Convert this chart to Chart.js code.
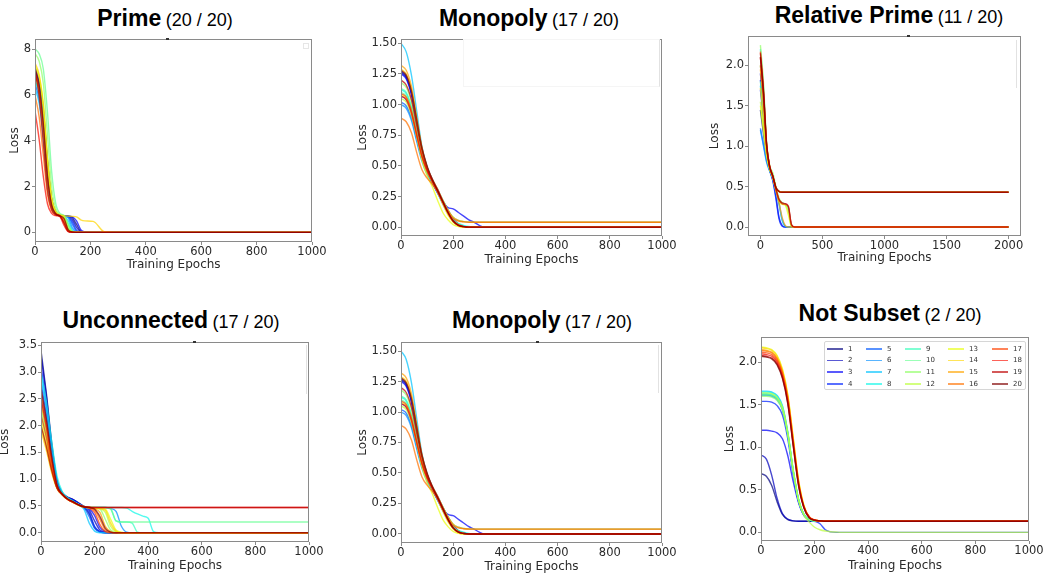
<!DOCTYPE html>
<html><head><meta charset="utf-8">
<script src="https://cdn.jsdelivr.net/npm/chart.js@4.4.0/dist/chart.umd.min.js"></script>
<style>
html,body{margin:0;padding:0;background:#fff;}
body{width:1048px;height:579px;position:relative;overflow:hidden;font-family:"Liberation Sans",Arial,sans-serif;}
canvas{position:absolute;}
.title{position:absolute;white-space:nowrap;color:#000;line-height:23px;transform:translateX(-50%);}
.title b{font-size:23px;font-weight:bold;}
.title span{font-size:18px;font-weight:normal;}
.ghost{position:absolute;box-sizing:border-box;}
.legend{position:absolute;left:824px;top:341px;width:202px;height:49px;box-sizing:border-box;border:1px solid #d6d6d6;border-radius:2px;background:rgba(255,255,255,0.85);}
.legend .ln{position:absolute;height:1.5px;width:16px;}
.legend .lb{position:absolute;font-family:"DejaVu Sans",sans-serif;font-size:7px;color:#333;line-height:8px;}
</style></head><body>

<div class="title" style="left:165px;top:6.5px"><b>Prime</b> <span>(20 / 20)</span></div>
<div class="title" style="left:529px;top:6.5px"><b>Monopoly</b> <span>(17 / 20)</span></div>
<div class="title" style="left:889px;top:3.8px"><b>Relative Prime</b> <span>(11 / 20)</span></div>
<div class="title" style="left:171px;top:309px"><b>Unconnected</b> <span>(17 / 20)</span></div>
<div class="title" style="left:542px;top:309px"><b>Monopoly</b> <span>(17 / 20)</span></div>
<div class="title" style="left:890px;top:302px"><b>Not Subset</b> <span>(2 / 20)</span></div>

<canvas id="c1"></canvas><canvas id="c2"></canvas><canvas id="c3"></canvas>
<canvas id="c4"></canvas><canvas id="c5"></canvas><canvas id="c6"></canvas>

<div class="ghost" style="left:303px;top:43px;width:6px;height:6px;border:1px solid #e6e6e6;"></div>
<div class="ghost" style="left:463px;top:39px;width:197px;height:48px;border:1px solid #f5f5f5;border-right-color:#e2e2e2;"></div>
<div class="ghost" style="left:1016px;top:40px;width:1px;height:48px;background:#e2e2e2;"></div>
<div class="ghost" style="left:306px;top:345px;width:1px;height:49px;background:#e2e2e2;"></div>
<div class="ghost" style="left:658px;top:345px;width:1px;height:48px;background:#e2e2e2;"></div>
<div class="ghost" style="left:166px;top:38px;width:3px;height:2px;background:#333;"></div>
<div class="ghost" style="left:907px;top:35px;width:3px;height:2px;background:#333;"></div>
<div class="ghost" style="left:193px;top:341px;width:3px;height:2px;background:#333;"></div>
<div class="ghost" style="left:536px;top:341px;width:3px;height:2px;background:#333;"></div>

<div class="legend" id="legend"></div>

<script>
// ---------------- DATA ----------------
const SERIES_LABELS = ['1','2','3','4','5','6','7','8','9','10','11','12','13','14','15','16','17','18','19','20'];

const X_TICKS_1000 = [0,200,400,600,800,1000];
const X_LABELS_1000 = ['0','200','400','600','800','1000'];
const X_TICKS_2000 = [0,500,1000,1500,2000];
const X_LABELS_2000 = ['0','500','1000','1500','2000'];

// Prime
const PRIME_Y_TICKS = [0,2,4,6,8];
const PRIME_Y_LABELS = ['0','2','4','6','8'];
const PRIME_EPOCHS = [0,15,30,45,60,75,90,105,120,135,150,165,180,210,250,300,1000];
const PRIME_LOSS = [
[6.8,6.34,5.16,3.01,1.43,0.88,0.74,0.72,0.71,0.64,0.35,0.05,0.01,0,0,0,0],
[7.0,6.52,5.30,3.08,1.45,0.88,0.74,0.72,0.70,0.55,0.22,0.03,0,0,0,0,0],
[6.6,6.15,5.01,2.93,1.40,0.87,0.74,0.72,0.71,0.68,0.50,0.12,0.02,0,0,0,0],
[7.1,6.61,5.38,3.12,1.46,0.89,0.75,0.72,0.69,0.45,0.10,0.01,0,0,0,0,0],
[6.5,5.81,4.31,2.26,1.14,0.80,0.72,0.71,0.68,0.35,0.05,0.01,0,0,0,0,0],
[6.9,6.43,5.23,3.04,1.44,0.88,0.74,0.71,0.63,0.20,0.03,0,0,0,0,0,0],
[6.3,5.63,4.18,2.21,1.13,0.80,0.72,0.70,0.50,0.10,0.01,0,0,0,0,0,0],
[6.7,5.99,4.43,2.31,1.16,0.81,0.72,0.69,0.35,0.05,0.01,0,0,0,0,0,0],
[6.6,6.15,5.01,2.93,1.40,0.87,0.74,0.68,0.20,0.03,0,0,0,0,0,0,0],
[8.0,7.79,7.13,5.24,2.66,1.25,0.83,0.74,0.38,0.05,0.01,0,0,0,0,0,0],
[7.8,7.47,6.51,4.25,1.99,1.03,0.78,0.72,0.30,0.04,0.01,0,0,0,0,0,0],
[7.2,6.71,5.45,3.16,1.47,0.89,0.75,0.60,0.12,0.02,0,0,0,0,0,0,0],
[7.3,6.80,5.52,3.19,1.49,0.89,0.75,0.65,0.15,0.02,0,0,0,0,0,0,0],
[7.4,6.89,5.60,3.23,1.50,0.89,0.75,0.72,0.71,0.70,0.68,0.55,0.50,0.48,0.03,0,0],
[6.9,6.16,4.56,2.37,1.17,0.81,0.72,0.55,0.08,0.01,0,0,0,0,0,0,0],
[6.0,5.04,3.35,1.66,0.95,0.76,0.71,0.45,0.05,0.01,0,0,0,0,0,0,0],
[7.0,6.25,4.62,2.39,1.18,0.81,0.72,0.45,0.05,0,0,0,0,0,0,0,0],
[5.3,4.06,2.44,1.25,0.83,0.73,0.68,0.30,0.03,0,0,0,0,0,0,0,0],
[7.1,5.94,3.90,1.86,1.00,0.77,0.71,0.40,0.04,0,0,0,0,0,0,0,0],
[7.2,6.43,4.74,2.45,1.19,0.82,0.72,0.60,0.12,0.02,0,0,0,0,0,0,0]
];

// Monopoly
const MONO_Y_TICKS = [0,0.25,0.5,0.75,1.0,1.25,1.5];
const MONO_Y_LABELS = ['0.00','0.25','0.50','0.75','1.00','1.25','1.50'];
const MONO_EPOCHS = [0,20,40,60,80,100,120,140,160,180,200,220,240,260,280,300,320,400,1000];
const MONO_LOSS = [
[1.27,1.23,1.10,0.87,0.64,0.49,0.39,0.31,0.22,0.14,0.07,0.025,0.008,0,0,0,0,0,0],
[1.26,1.22,1.09,0.86,0.63,0.48,0.38,0.30,0.21,0.13,0.06,0.02,0.005,0,0,0,0,0,0],
[1.25,1.21,1.08,0.85,0.62,0.46,0.36,0.28,0.21,0.16,0.15,0.12,0.09,0.06,0.04,0.015,0,0,0],
[1.07,1.04,0.93,0.75,0.58,0.46,0.37,0.29,0.20,0.12,0.05,0.02,0.005,0,0,0,0,0,0],
[1.02,0.99,0.89,0.72,0.56,0.45,0.37,0.29,0.20,0.12,0.05,0.02,0.005,0,0,0,0,0,0],
[1.00,0.97,0.87,0.70,0.54,0.43,0.36,0.28,0.19,0.11,0.05,0.015,0.004,0,0,0,0,0,0],
[1.50,1.43,1.24,0.95,0.66,0.49,0.38,0.30,0.21,0.13,0.06,0.02,0.005,0,0,0,0,0,0],
[1.12,1.09,0.97,0.78,0.60,0.47,0.38,0.30,0.21,0.12,0.05,0.03,0.015,0.005,0,0,0,0,0],
[1.13,1.10,0.98,0.79,0.60,0.47,0.38,0.30,0.22,0.14,0.08,0.055,0.045,0.041,0.04,0.04,0.04,0.04,0.04],
[1.10,1.07,0.96,0.77,0.59,0.46,0.37,0.30,0.22,0.13,0.06,0.02,0.005,0,0,0,0,0,0],
[1.18,1.14,1.02,0.81,0.61,0.47,0.38,0.30,0.21,0.12,0.05,0.02,0.005,0,0,0,0,0,0],
[1.05,1.02,0.91,0.74,0.57,0.45,0.37,0.29,0.20,0.11,0.05,0.02,0.005,0,0,0,0,0,0],
[1.08,1.05,0.94,0.74,0.55,0.42,0.33,0.22,0.12,0.06,0.02,0.005,0,0,0,0,0,0,0],
[1.29,1.25,1.12,0.88,0.64,0.48,0.38,0.29,0.19,0.10,0.04,0.01,0,0,0,0,0,0,0],
[1.32,1.28,1.15,0.90,0.65,0.49,0.39,0.31,0.22,0.14,0.08,0.055,0.045,0.041,0.04,0.04,0.04,0.04,0.04],
[0.89,0.86,0.77,0.61,0.47,0.40,0.35,0.29,0.21,0.13,0.07,0.05,0.043,0.04,0.04,0.04,0.04,0.04,0.04],
[1.09,1.06,0.95,0.76,0.58,0.46,0.37,0.29,0.20,0.12,0.05,0.02,0.005,0,0,0,0,0,0],
[1.07,1.04,0.93,0.75,0.58,0.46,0.38,0.30,0.21,0.12,0.05,0.015,0.004,0,0,0,0,0,0],
[1.20,1.16,1.04,0.83,0.63,0.48,0.38,0.30,0.21,0.12,0.05,0.015,0.004,0,0,0,0,0,0],
[1.28,1.24,1.11,0.88,0.65,0.50,0.39,0.30,0.21,0.12,0.05,0.015,0.004,0,0,0,0,0,0]
];

// Relative Prime
const REL_Y_TICKS = [0,0.5,1.0,1.5,2.0];
const REL_Y_LABELS = ['0.0','0.5','1.0','1.5','2.0'];
const REL_EPOCHS = [0,25,50,75,100,125,150,175,200,225,250,275,300,2000];
const REL_LOSS = [
[1.45,1.15,0.88,0.72,0.62,0.46,0.33,0.29,0.28,0.24,0.02,0,0,0],
[1.90,1.50,0.98,0.73,0.62,0.48,0.44,0.43,0.43,0.43,0.43,0.43,0.43,0.43],
[1.82,1.42,0.92,0.71,0.58,0.38,0.12,0.02,0,0,0,0,0,0],
[1.70,1.32,0.90,0.70,0.57,0.35,0.10,0.01,0,0,0,0,0,0],
[1.22,1.02,0.82,0.70,0.61,0.48,0.44,0.43,0.43,0.43,0.43,0.43,0.43,0.43],
[1.20,1.00,0.80,0.69,0.60,0.45,0.30,0.10,0.01,0,0,0,0,0],
[1.75,1.38,0.92,0.71,0.60,0.44,0.28,0.08,0.01,0,0,0,0,0],
[2.20,1.72,1.02,0.74,0.63,0.49,0.44,0.43,0.43,0.43,0.43,0.43,0.43,0.43],
[1.80,1.42,0.93,0.72,0.62,0.46,0.34,0.30,0.28,0.22,0.02,0,0,0],
[2.00,1.58,1.00,0.74,0.64,0.49,0.44,0.43,0.43,0.43,0.43,0.43,0.43,0.43],
[2.25,1.78,1.05,0.76,0.67,0.50,0.36,0.30,0.28,0.20,0.01,0,0,0],
[1.55,1.22,0.90,0.72,0.62,0.48,0.44,0.43,0.43,0.43,0.43,0.43,0.43,0.43],
[1.50,1.20,0.88,0.71,0.61,0.46,0.32,0.28,0.27,0.15,0.01,0,0,0],
[1.72,1.36,0.93,0.72,0.62,0.48,0.44,0.43,0.43,0.43,0.43,0.43,0.43,0.43],
[1.95,1.52,0.98,0.73,0.61,0.45,0.30,0.12,0.02,0,0,0,0,0],
[2.00,1.58,1.00,0.74,0.63,0.49,0.44,0.43,0.43,0.43,0.43,0.43,0.43,0.43],
[2.17,1.70,1.03,0.75,0.63,0.47,0.34,0.29,0.28,0.25,0.03,0,0,0],
[2.10,1.65,1.01,0.74,0.63,0.49,0.44,0.43,0.43,0.43,0.43,0.43,0.43,0.43],
[2.15,1.68,1.02,0.75,0.63,0.47,0.34,0.30,0.29,0.26,0.03,0,0,0],
[2.10,1.65,1.01,0.74,0.63,0.49,0.44,0.43,0.43,0.43,0.43,0.43,0.43,0.43]
];

// Unconnected
const UNC_Y_TICKS = [0,0.5,1.0,1.5,2.0,2.5,3.0,3.5];
const UNC_Y_LABELS = ['0.0','0.5','1.0','1.5','2.0','2.5','3.0','3.5'];
const UNC_EPOCHS = [0,20,40,60,80,100,120,140,160,180,200,220,240,260,280,300,320,340,360,380,400,420,440,1000];
const UNC_LOSS = [
[3.4,2.6,1.68,0.98,0.75,0.66,0.62,0.56,0.48,0.35,0.10,0.02,0,0,0,0,0,0,0,0,0,0,0,0],
[3.3,2.55,1.63,0.96,0.74,0.66,0.62,0.55,0.49,0.42,0.22,0.05,0.01,0,0,0,0,0,0,0,0,0,0,0],
[3.1,2.4,1.55,0.93,0.73,0.65,0.61,0.55,0.49,0.45,0.32,0.10,0.02,0,0,0,0,0,0,0,0,0,0,0],
[2.8,2.2,1.45,0.90,0.72,0.64,0.60,0.54,0.48,0.38,0.12,0.02,0,0,0,0,0,0,0,0,0,0,0,0],
[2.6,2.05,1.38,0.88,0.72,0.64,0.59,0.53,0.47,0.30,0.08,0.01,0,0,0,0,0,0,0,0,0,0,0,0],
[2.5,1.98,1.33,0.86,0.71,0.63,0.58,0.52,0.47,0.47,0.47,0.47,0.47,0.45,0.40,0.12,0.01,0,0,0,0,0,0,0],
[2.9,2.3,1.55,0.95,0.74,0.64,0.58,0.52,0.44,0.18,0.03,0,0,0,0,0,0,0,0,0,0,0,0,0],
[3.0,2.45,1.7,1.05,0.76,0.65,0.59,0.53,0.49,0.47,0.47,0.47,0.47,0.47,0.47,0.47,0.46,0.40,0.35,0.31,0.27,0.02,0,0],
[2.4,1.92,1.3,0.86,0.72,0.63,0.58,0.53,0.49,0.47,0.47,0.47,0.47,0.45,0.22,0.20,0.20,0.18,0.01,0,0,0,0,0],
[2.2,1.78,1.22,0.83,0.71,0.63,0.58,0.53,0.49,0.47,0.47,0.47,0.47,0.44,0.22,0.20,0.20,0.20,0.20,0.20,0.20,0.20,0.20,0.20],
[2.3,1.85,1.26,0.85,0.71,0.62,0.57,0.52,0.48,0.47,0.46,0.44,0.25,0.05,0.01,0,0,0,0,0,0,0,0,0],
[2.0,1.61,1.16,0.83,0.71,0.62,0.57,0.52,0.48,0.47,0.46,0.45,0.38,0.12,0.02,0,0,0,0,0,0,0,0,0],
[2.1,1.68,1.19,0.84,0.71,0.62,0.57,0.52,0.48,0.47,0.47,0.46,0.44,0.25,0.05,0.01,0,0,0,0,0,0,0,0],
[1.9,1.54,1.12,0.82,0.70,0.62,0.56,0.51,0.48,0.47,0.46,0.45,0.42,0.18,0.03,0,0,0,0,0,0,0,0,0],
[2.4,1.92,1.3,0.86,0.71,0.62,0.57,0.52,0.48,0.47,0.45,0.38,0.12,0.02,0,0,0,0,0,0,0,0,0,0],
[2.6,2.05,1.38,0.88,0.72,0.63,0.57,0.52,0.48,0.47,0.42,0.25,0.05,0.01,0,0,0,0,0,0,0,0,0,0],
[2.2,1.78,1.22,0.83,0.71,0.62,0.57,0.52,0.48,0.46,0.38,0.15,0.02,0,0,0,0,0,0,0,0,0,0,0],
[2.5,1.98,1.33,0.86,0.71,0.62,0.57,0.52,0.49,0.475,0.47,0.47,0.47,0.47,0.47,0.47,0.47,0.47,0.47,0.47,0.47,0.47,0.47,0.47],
[2.0,1.61,1.16,0.83,0.71,0.62,0.57,0.52,0.49,0.475,0.47,0.47,0.47,0.47,0.47,0.47,0.47,0.47,0.47,0.47,0.47,0.47,0.47,0.47],
[2.7,2.12,1.42,0.89,0.72,0.63,0.58,0.52,0.48,0.47,0.44,0.30,0.08,0.01,0,0,0,0,0,0,0,0,0,0]
];

// Not Subset
const NS_Y_TICKS = [0,0.5,1.0,1.5,2.0];
const NS_Y_LABELS = ['0.0','0.5','1.0','1.5','2.0'];
const NS_EPOCHS = [0,20,40,60,80,100,120,140,160,180,200,220,240,260,280,300,1000];
const NS_LOSS = [
[0.69,0.66,0.55,0.36,0.21,0.15,0.135,0.13,0.13,0.13,0.13,0.13,0.13,0.13,0.13,0.13,0.13],
[0.91,0.86,0.67,0.40,0.22,0.155,0.135,0.13,0.13,0.13,0.13,0.13,0.13,0.13,0.13,0.13,0.13],
[1.20,1.20,1.19,1.17,1.10,0.90,0.60,0.35,0.20,0.15,0.135,0.13,0.13,0.13,0.13,0.13,0.13],
[1.54,1.54,1.53,1.49,1.38,1.10,0.68,0.36,0.20,0.15,0.13,0.10,0.03,0.005,0,0,0],
[1.62,1.62,1.61,1.57,1.45,1.15,0.72,0.38,0.21,0.15,0.135,0.13,0.13,0.13,0.13,0.13,0.13],
[1.61,1.61,1.60,1.56,1.44,1.14,0.71,0.38,0.21,0.15,0.135,0.13,0.13,0.13,0.13,0.13,0.13],
[1.66,1.66,1.65,1.61,1.49,1.18,0.74,0.39,0.21,0.15,0.135,0.13,0.13,0.13,0.13,0.13,0.13],
[1.65,1.65,1.64,1.60,1.48,1.17,0.73,0.39,0.21,0.15,0.135,0.13,0.13,0.13,0.13,0.13,0.13],
[1.63,1.63,1.62,1.58,1.46,1.16,0.72,0.38,0.21,0.15,0.135,0.13,0.13,0.13,0.13,0.13,0.13],
[1.62,1.62,1.61,1.57,1.46,1.16,0.73,0.39,0.21,0.15,0.135,0.13,0.13,0.13,0.13,0.13,0.13],
[1.60,1.60,1.59,1.55,1.44,1.15,0.72,0.38,0.21,0.15,0.135,0.13,0.13,0.13,0.13,0.13,0.13],
[1.64,1.64,1.63,1.59,1.47,1.17,0.73,0.38,0.20,0.12,0.06,0.03,0.015,0.007,0.003,0,0],
[2.18,2.17,2.15,2.08,1.92,1.62,1.12,0.62,0.32,0.18,0.145,0.135,0.13,0.13,0.13,0.13,0.13],
[2.17,2.16,2.14,2.07,1.91,1.61,1.11,0.61,0.31,0.18,0.145,0.135,0.13,0.13,0.13,0.13,0.13],
[2.15,2.14,2.12,2.05,1.89,1.59,1.09,0.60,0.31,0.18,0.145,0.135,0.13,0.13,0.13,0.13,0.13],
[2.14,2.13,2.11,2.04,1.88,1.58,1.08,0.59,0.30,0.18,0.145,0.135,0.13,0.13,0.13,0.13,0.13],
[2.12,2.11,2.09,2.02,1.86,1.56,1.06,0.58,0.30,0.18,0.145,0.135,0.13,0.13,0.13,0.13,0.13],
[2.10,2.09,2.07,2.00,1.84,1.54,1.05,0.57,0.30,0.18,0.145,0.135,0.13,0.13,0.13,0.13,0.13],
[2.08,2.07,2.05,1.98,1.82,1.52,1.03,0.56,0.29,0.17,0.145,0.135,0.13,0.13,0.13,0.13,0.13],
[2.07,2.06,2.04,1.97,1.81,1.51,1.02,0.55,0.29,0.17,0.14,0.135,0.13,0.13,0.13,0.13,0.13]
];

// ---------------- STYLE / RENDER ----------------
const JET = {
  r: [[0,0],[0.35,0],[0.66,1],[0.89,1],[1,0.5]],
  g: [[0,0],[0.125,0],[0.375,1],[0.64,1],[0.91,0],[1,0]],
  b: [[0,0.5],[0.11,1],[0.34,1],[0.65,0],[1,0]]
};
function seg(p, t) {
  for (let i = 1; i < p.length; i++) {
    if (t <= p[i][0]) {
      const [x0,y0] = p[i-1], [x1,y1] = p[i];
      return y0 + (y1 - y0) * (t - x0) / (x1 - x0);
    }
  }
  return p[p.length-1][1];
}
function jet(t, a) {
  const r = Math.round(seg(JET.r,t)*255), g = Math.round(seg(JET.g,t)*255), b = Math.round(seg(JET.b,t)*255);
  return `rgba(${r},${g},${b},${a})`;
}

Chart.defaults.font.family = '"DejaVu Sans", sans-serif';
Chart.defaults.animation = false;

const spinePlugin = {
  id: 'spine',
  afterDraw(chart) {
    const {ctx, chartArea: a} = chart;
    ctx.save();
    ctx.strokeStyle = '#8a8a8a';
    ctx.lineWidth = 1;
    ctx.strokeRect(Math.round(a.left) + 0.5, Math.round(a.top) + 0.5,
                   Math.round(a.right - a.left) - 1, Math.round(a.bottom - a.top) - 1);
    ctx.restore();
  }
};

const TEXT = '#2a2a2a';
const GRID = {display: true, drawOnChartArea: false, drawTicks: true, tickLength: 3, color: '#8a8a8a', lineWidth: 1};

function build(id, g, xLim, yLim, xTicks, xLabels, yTicks, yLabels, epochs, rows) {
  const padTop = 8, padRight = 18;
  const canvasLeft = Math.round(g.yTitleX - 7);
  const yW = g.l - canvasLeft;
  const canvasTop = g.t - padTop;
  const xH = Math.round(g.xTitleY + 7 - g.b);
  const W = g.r + padRight - canvasLeft;
  const H = g.b + xH - canvasTop;
  const cv = document.getElementById(id);
  cv.width = W; cv.height = H;
  cv.style.left = canvasLeft + 'px'; cv.style.top = canvasTop + 'px';
  cv.style.width = W + 'px'; cv.style.height = H + 'px';
  const n = rows.length;
  const datasets = rows.map((row, i) => ({
    label: SERIES_LABELS[i],
    data: epochs.map((e, k) => ({x: e, y: row[k]})),
    borderColor: jet(i / (n - 1), 0.72),
    borderWidth: 1.4,
    pointRadius: 0,
    fill: false,
    order: n - 1 - i,
    cubicInterpolationMode: 'monotone'
  }));
  new Chart(cv, {
    type: 'line',
    data: {datasets},
    plugins: [spinePlugin],
    options: {
      responsive: false,
      devicePixelRatio: 1,
      animation: false,
      layout: {padding: {left: 0, top: padTop, right: padRight, bottom: 0}, autoPadding: false},
      plugins: {legend: {display: false}, tooltip: {enabled: false}},
      scales: {
        x: {
          type: 'linear', min: xLim[0], max: xLim[1],
          afterBuildTicks: s => { s.ticks = xTicks.map(v => ({value: v})); },
          afterFit: s => { s.height = xH; s.paddingLeft = 0; s.paddingRight = 0; },
          ticks: {color: TEXT, font: {size: 11.5}, padding: 0, maxRotation: 0, autoSkip: false,
                  callback: (v, i) => xLabels[i]},
          title: {display: true, text: 'Training Epochs', color: TEXT, font: {size: 12}, padding: 0},
          grid: GRID, border: {display: false}
        },
        y: {
          type: 'linear', min: yLim[0], max: yLim[1],
          afterBuildTicks: s => { s.ticks = yTicks.map(v => ({value: v})); },
          afterFit: s => { s.width = yW; s.paddingTop = 0; s.paddingBottom = 0; },
          ticks: {color: TEXT, font: {size: 11.5}, padding: 1, autoSkip: false,
                  callback: (v, i) => yLabels[i]},
          title: {display: true, text: 'Loss', color: TEXT, font: {size: 12}, padding: 0},
          grid: GRID, border: {display: false}
        }
      }
    }
  });
}

build('c1', {l:35, t:39, r:312, b:242, yTitleX:15, xTitleY:265}, [0,1000], [-0.42,8.44],
      X_TICKS_1000, X_LABELS_1000, PRIME_Y_TICKS, PRIME_Y_LABELS, PRIME_EPOCHS, PRIME_LOSS);
build('c2', {l:401, t:39, r:662, b:236, yTitleX:363, xTitleY:260}, [0,1000], [-0.072,1.535],
      X_TICKS_1000, X_LABELS_1000, MONO_Y_TICKS, MONO_Y_LABELS, MONO_EPOCHS, MONO_LOSS);
build('c3', {l:748, t:36, r:1021, b:236, yTitleX:715, xTitleY:258}, [-100,2100], [-0.111,2.363],
      X_TICKS_2000, X_LABELS_2000, REL_Y_TICKS, REL_Y_LABELS, REL_EPOCHS, REL_LOSS);
build('c4', {l:41, t:342, r:309, b:542, yTitleX:5, xTitleY:566}, [0,1000], [-0.173,3.56],
      X_TICKS_1000, X_LABELS_1000, UNC_Y_TICKS, UNC_Y_LABELS, UNC_EPOCHS, UNC_LOSS);
build('c5', {l:401, t:342, r:662, b:543, yTitleX:363, xTitleY:567}, [0,1000], [-0.074,1.574],
      X_TICKS_1000, X_LABELS_1000, MONO_Y_TICKS, MONO_Y_LABELS, MONO_EPOCHS, MONO_LOSS);
build('c6', {l:761, t:337, r:1029, b:541, yTitleX:730, xTitleY:566}, [0,1000], [-0.102,2.297],
      X_TICKS_1000, X_LABELS_1000, NS_Y_TICKS, NS_Y_LABELS, NS_EPOCHS, NS_LOSS);

// Legend for Not Subset
const legend = document.getElementById('legend');
const COL_X = [2, 41, 80, 123, 167];
SERIES_LABELS.forEach((lab, i) => {
  const col = Math.floor(i / 4), row = i % 4;
  const y = 6 + row * 11.7;
  const ln = document.createElement('div');
  ln.className = 'ln';
  ln.style.left = COL_X[col] + 'px';
  ln.style.top = y + 'px';
  ln.style.background = jet(i / (SERIES_LABELS.length - 1), 0.65);
  legend.appendChild(ln);
  const lb = document.createElement('div');
  lb.className = 'lb';
  lb.textContent = lab;
  lb.style.left = (COL_X[col] + 21) + 'px';
  lb.style.top = (y - 3.5) + 'px';
  legend.appendChild(lb);
});
</script>
</body></html>
